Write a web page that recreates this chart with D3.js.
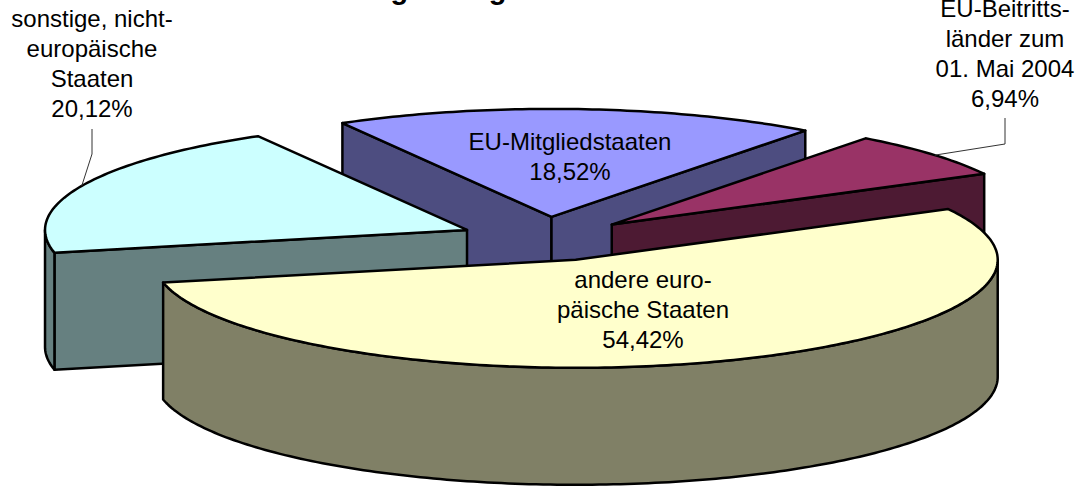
<!DOCTYPE html>
<html><head><meta charset="utf-8">
<script src="https://cdn.jsdelivr.net/npm/d3@7"></script>
<style>html,body{margin:0;padding:0;background:#fff;overflow:hidden}svg{display:block}text{font-family:"Liberation Sans",Arial,sans-serif;fill:#000}</style>
</head><body><script>
const categories = ["EU-Mitgliedstaaten","EU-Beitrittsländer zum 01. Mai 2004","andere europäische Staaten","sonstige, nicht-europäische Staaten"];
const shares = [18.52, 6.94, 54.42, 20.12];
const shareLabels = ["18,52%","6,94%","54,42%","20,12%"];
const labelLines = [["EU-Mitgliedstaaten"],["EU-Beitritts-","länder zum","01. Mai 2004"],["andere euro-","päische Staaten"],["sonstige, nicht-","europäische","Staaten"]];
const topColors = ["#9999FF","#993366","#FFFFCC","#CCFFFF"];
const sideColors = ["#4D4D80","#4D1A33","#808066","#668080"];
const titleText = "Zuwanderung 2003 gesamt";

const W = 1077, H = 486;
const centre = {x:546, y:239}, rx = 422, ry = 108, depth = 117, explode = 0.205;
const firstAngle = -29.7 * Math.PI / 180;
const paintOrder = [0, 3, 1, 2];
const labelPos = [{x:570,y:150},{x:1005,y:17},{x:643,y:288},{x:92,y:27}];
const lineGap = 30;
const leaderStubs = {1:{label:[1005,118],elbow:[1005,144],slicePoint:0.52},3:{label:[92,129],elbow:[92,154],slicePoint:0.5}};

const svg = d3.select("body").append("svg").attr("width",W).attr("height",H);
svg.append("text").attr("x",218).attr("y",-1).attr("font-size",29).attr("font-weight","bold").text(titleText);

const arcs = d3.pie().sort(null).startAngle(firstAngle).endAngle(firstAngle+2*Math.PI)(shares);
const line = d3.line().x(d=>d[0]).y(d=>d[1]);
const TAU = 2*Math.PI;

function sliceGeom(a){
  const mid = (a.startAngle+a.endAngle)/2;
  const cx = centre.x + explode*rx*Math.sin(mid), cy = centre.y - explode*ry*Math.cos(mid);
  const pt = (t,dz=0)=>[cx+rx*Math.sin(t), cy-ry*Math.cos(t)+dz];
  const arcPts = (t0,t1,dz=0)=>{const n=Math.max(2,Math.ceil((t1-t0)*60));return d3.range(n+1).map(i=>pt(t0+(t1-t0)*i/n,dz));};
  return {cx,cy,pt,arcPts};
}
function frontRuns(t0,t1){ // parts of the rim facing the viewer
  const runs=[];
  for(let k=-1;k<=1;k++){
    const s=Math.PI/2+k*TAU, e=3*Math.PI/2+k*TAU;
    const a=Math.max(t0,s), b=Math.min(t1,e);
    if(b>a) runs.push([a,b]);
  }
  return runs;
}
const strokeStyle = s=>s.attr("stroke","#000").attr("stroke-width",2.5).attr("stroke-linejoin","round");

paintOrder.forEach(i=>{
  const a = arcs[i], g = sliceGeom(a), t0=a.startAngle, t1=a.endAngle;
  const G = svg.append("g");
  const wall = t=>{
    const c=[g.cx,g.cy];
    G.append("path").attr("d",line([c,g.pt(t),g.pt(t,depth),[c[0],c[1]+depth]])+"Z").attr("fill",sideColors[i]).call(strokeStyle);
  };
  if(Math.sin(t0)<0) wall(t0);
  if(Math.sin(t1)>0) wall(t1);
  frontRuns(t0,t1).forEach(([s,e])=>{
    const pts = g.arcPts(s,e).concat(g.arcPts(s,e,depth).reverse());
    G.append("path").attr("d",line(pts)+"Z").attr("fill",sideColors[i]).call(strokeStyle);
  });
  const top=[[g.cx,g.cy]].concat(g.arcPts(t0,t1));
  G.append("path").attr("d",line(top)+"Z").attr("fill",topColors[i]).call(strokeStyle);
});

Object.entries(leaderStubs).forEach(([k,l])=>{
  const a=arcs[+k], g=sliceGeom(a);
  const end=g.pt(a.startAngle+(a.endAngle-a.startAngle)*l.slicePoint);
  svg.append("path").attr("d",line([l.label,l.elbow,end])).attr("fill","none").attr("stroke","#333").attr("stroke-width",1);
});

categories.forEach((c,i)=>{
  const lines = labelLines[i].concat([shareLabels[i]]);
  const t = svg.append("text").attr("text-anchor","middle").attr("font-size",24);
  lines.forEach((s,j)=>t.append("tspan").attr("x",labelPos[i].x).attr("y",labelPos[i].y+j*lineGap).text(s));
});
</script></body></html>
